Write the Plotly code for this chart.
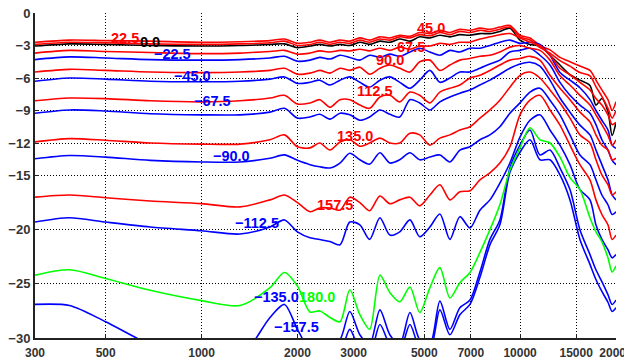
"""Off-axis frequency responses, one curve per angle."""

import math

import plotly.graph_objects as go


FREQ_HZ = [300, 385, 500, 690, 1000, 1320, 1640, 1820, 2000, 2190, 2350, 2530, 2720, 2920,
           3140, 3370, 3630, 3900, 4190, 4510, 4840, 5210, 5600, 6020, 6470, 6960, 7480,
           8040, 8640, 9290, 9990, 10740, 11540, 12410, 13340, 14340, 15410, 16570, 17300,
           18060, 18870, 19450, 20000]

DB_0 = [-3.05, -2.85, -2.9, -3.0, -3.05, -3.0, -2.9, -2.85, -3.2, -3.05, -2.9, -3.05, -2.9, -3.0,
        -2.7, -2.9, -2.6, -2.7, -2.4, -2.6, -2.2, -2.3, -2.05, -2.2, -2.0, -2.05, -1.9, -1.9,
        -1.7, -1.4, -2.5, -2.9, -3.05, -3.9, -4.8, -5.7, -6.2, -6.7, -8.5, -7.9, -9.1, -11.3, -10.1]
DB_P22 = [-2.7, -2.5, -2.55, -2.6, -2.7, -2.65, -2.55, -2.4, -2.8, -2.7, -2.5, -2.7, -2.5, -2.6,
          -2.3, -2.5, -2.2, -2.3, -2.05, -2.15, -1.8, -1.9, -1.6, -1.8, -1.5, -1.6, -1.4, -1.5,
          -1.3, -1.15, -2.05, -2.3, -3.0, -3.4, -4.1, -4.5, -4.9, -5.3, -6.2, -7.1, -8.0, -9.0, -8.2]
DB_P45 = [-2.9, -2.7, -2.75, -2.85, -2.9, -2.85, -2.75, -2.6, -3.0, -2.9, -2.7, -2.9, -2.7, -2.8,
          -2.5, -2.7, -2.4, -2.5, -2.2, -2.3, -2.0, -2.1, -1.8, -2.0, -1.7, -1.8, -1.6, -1.7,
          -1.5, -1.3, -2.2, -2.5, -3.2, -3.7, -4.4, -4.9, -5.5, -5.8, -6.8, -7.7, -8.8, -9.7, -9.0]
DB_P67 = [-3.7, -3.45, -3.55, -3.65, -3.75, -3.7, -3.55, -3.45, -3.8, -3.7, -3.5, -3.6, -3.45, -3.5,
          -3.35, -3.5, -3.25, -3.45, -3.15, -3.35, -3.05, -3.05, -2.8, -2.9, -2.7, -2.7, -2.4, -2.2,
          -2.0, -1.9, -2.3, -2.7, -3.0, -3.9, -5.1, -5.7, -6.4, -7.1, -7.9, -8.5, -9.4, -10.3, -10.1]
DB_P90 = [-5.45, -5.2, -5.3, -5.45, -5.5, -5.45, -5.3, -5.1, -5.65, -5.55, -5.3, -5.55, -5.1, -5.3,
          -5.0, -5.65, -5.1, -4.8, -5.1, -5.45, -4.5, -4.35, -5.3, -4.8, -4.35, -4.2, -4.0, -3.9,
          -3.6, -3.15, -3.0, -3.25, -3.45, -4.35, -5.8, -6.65, -7.6, -8.5, -9.4, -10.3, -11.3, -12.2, -11.7]
DB_P112 = [-8.1, -7.85, -7.9, -8.1, -8.2, -8.1, -7.85, -7.6, -8.4, -8.3, -8.0, -8.7, -8.0, -8.0,
           -8.5, -8.8, -7.75, -7.6, -8.2, -7.3, -7.6, -8.3, -7.3, -6.95, -6.65, -6.0, -5.75, -5.3,
           -4.8, -4.35, -4.2, -4.0, -4.35, -5.75, -6.95, -8.0, -9.15, -10.05, -11.25, -12.2, -12.65,
           -13.55, -13.4]
DB_P135 = [-11.9, -11.6, -11.75, -12.0, -12.1, -12.1, -11.7, -11.25, -12.35, -12.45, -12.0, -12.65,
           -11.9, -11.7, -12.3, -12.0, -11.55, -12.0, -12.0, -11.1, -11.25, -12.2, -11.55, -11.25,
           -10.8, -10.5, -9.7, -8.95, -8.05, -6.85, -5.75, -5.45, -6.0, -7.1, -8.3, -9.7, -11.25,
           -12.0, -13.55, -14.95, -15.85, -16.8, -16.5]
DB_P157 = [-17.0, -16.8, -17.05, -17.35, -17.6, -17.9, -17.25, -16.8, -17.5, -18.35, -18.0, -18.0,
           -18.2, -17.0, -17.5, -18.25, -16.9, -17.6, -17.25, -17.0, -17.8, -16.8, -15.85, -17.25,
           -16.5, -16.4, -15.4, -14.75, -13.85, -12.35, -9.4, -8.05, -7.6, -8.95, -10.35, -12.2,
           -14.0, -15.4, -17.25, -18.6, -19.55, -20.9, -20.5]
DB_180 = [-24.2, -23.7, -24.5, -25.6, -26.55, -27.0, -25.35, -23.95, -25.2, -27.6, -27.5, -28.1,
          -28.5, -25.55, -27.85, -29.2, -24.2, -25.8, -26.65, -25.3, -27.65, -25.35, -23.5, -26.3,
          -24.9, -23.95, -22.1, -20.0, -17.7, -14.5, -12.45, -10.6, -11.7, -12.0, -13.3, -15.2,
          -16.3, -18.9, -20.2, -21.1, -22.6, -23.9, -23.35]
DB_M22 = [-4.3, -4.05, -4.15, -4.3, -4.35, -4.3, -4.15, -4.0, -4.45, -4.35, -4.1, -4.25, -3.9, -4.1,
          -4.35, -3.9, -4.1, -3.8, -4.0, -3.6, -3.25, -3.6, -3.9, -3.45, -3.6, -3.25, -3.25, -3.0,
          -2.7, -2.5, -2.8, -2.7, -2.9, -3.9, -5.5, -6.2, -6.9, -8.0, -9.0, -9.9, -10.8, -12.2, -12.5]
DB_M45 = [-6.3, -6.0, -6.1, -6.3, -6.35, -6.3, -6.1, -5.9, -6.5, -6.4, -6.2, -6.65, -6.2, -5.9,
          -6.4, -6.85, -6.2, -5.9, -6.4, -6.95, -6.2, -5.3, -6.4, -6.0, -5.45, -5.45, -5.1, -4.7,
          -4.35, -3.6, -3.45, -3.25, -3.9, -4.8, -6.4, -7.6, -8.5, -9.25, -10.3, -11.7, -12.65,
          -13.6, -14.0]
DB_M67 = [-9.25, -8.95, -9.05, -9.3, -9.4, -9.4, -9.15, -8.8, -9.7, -9.6, -9.35, -9.8, -9.25, -9.4,
          -9.9, -9.6, -8.95, -9.35, -9.6, -8.0, -8.3, -8.95, -8.2, -7.75, -7.4, -7.1, -6.65, -6.2,
          -5.65, -5.1, -4.7, -4.55, -4.9, -6.2, -7.85, -9.15, -10.35, -11.25, -12.65, -14.0, -15.4,
          -16.8, -17.25]
DB_M90 = [-13.45, -13.15, -13.3, -13.6, -13.75, -13.75, -13.4, -13.1, -13.6, -14.0, -14.2, -14.3,
          -13.85, -12.95, -13.55, -13.95, -12.9, -13.85, -13.55, -12.9, -13.55, -13.3, -13.1,
          -13.75, -12.65, -12.35, -11.7, -11.25, -10.5, -9.25, -8.3, -7.3, -6.95, -8.05, -9.4,
          -11.25, -13.1, -14.0, -15.4, -16.8, -17.7, -18.6, -18.35]
DB_M112 = [-19.3, -18.9, -19.3, -19.75, -20.1, -20.4, -19.75, -19.1, -20.2, -20.75, -20.9, -21.1,
           -21.4, -19.3, -19.55, -20.9, -18.9, -20.5, -20.2, -19.1, -20.65, -19.75, -18.55, -20.9,
           -18.8, -19.85, -18.2, -17.25, -15.7, -13.85, -11.45, -9.9, -9.4, -10.8, -12.2, -14.0,
           -16.3, -17.25, -19.55, -20.9, -21.85, -22.6, -22.3]
DB_M135 = [-26.9, -27.0, -28.5, -30.6, -32.0, -31.8, -28.1, -26.9, -29.2, -31.1, -31.1, -30.6,
           -30.15, -27.55, -29.7, -30.6, -27.4, -29.7, -30.6, -27.65, -30.15, -30.6, -26.6, -29.2,
           -27.2, -26.5, -23.9, -20.9, -19.1, -14.3, -12.2, -10.8, -13.1, -12.65, -14.3, -16.3,
           -20.0, -22.3, -23.7, -24.8, -26.0, -26.9, -26.5]
DB_M157 = [-32.0, -32.45, -33.4, -33.8, -33.8, -33.4, -31.5, -30.6, -31.1, -32.45, -32.45, -32.0,
           -31.5, -29.2, -31.1, -31.5, -28.75, -30.6, -31.1, -28.75, -30.9, -31.1, -27.4, -29.7,
           -27.85, -26.9, -24.4, -21.4, -19.55, -14.7, -12.85, -11.7, -13.55, -13.55, -14.95,
           -17.25, -20.9, -23.2, -24.6, -25.7, -26.7, -27.55, -27.2]

# angle label text and where it sits (Hz, dB)
LABEL_TEXT = ["22.5", "0.0", "\u221222.5", "\u221245.0", "\u221267.5", "\u221290.0", "\u2212112.5",
              "\u2212135.0", "\u2212157.5", "180.0", "157.5", "135.0", "112.5", "90.0", "67.5", "45.0"]
LABEL_HZ = [575, 690, 811, 938, 1084, 1243, 1490, 1722, 1990, 2299, 2620, 3027, 3498, 3899, 4539, 5245]
LABEL_DB = [-2.28, -2.7, -3.8, -5.83, -8.13, -13.2, -19.37, -26.18, -28.94, -26.18, -17.71, -11.36,
            -7.21, -4.36, -3.11, -1.36]

X_TICKS = [300, 500, 1000, 2000, 3000, 5000, 7000, 10000, 15000, 20000]
Y_TICKS = [0, -3, -6, -9, -12, -15, -20, -25, -30]

RED = "#ff0000"
BLUE = "#0000ff"
GREEN = "#00ff00"
BLACK = "#000000"


def label_color(text):
    if text == "0.0":
        return BLACK
    if text == "180.0":
        return GREEN
    return BLUE if text.startswith("\u2212") else RED


series = [
    (DB_0, BLACK), (DB_P22, RED), (DB_M22, BLUE), (DB_P45, RED), (DB_M45, BLUE),
    (DB_P67, RED), (DB_M67, BLUE), (DB_P90, RED), (DB_M90, BLUE), (DB_P112, RED),
    (DB_M112, BLUE), (DB_P135, RED), (DB_M135, BLUE), (DB_P157, RED), (DB_M157, BLUE),
    (DB_180, GREEN),
]

fig = go.Figure()
for values, color in series:
    fig.add_trace(go.Scatter(
        x=FREQ_HZ, y=values, mode="lines",
        line={"color": color, "width": 1.6, "shape": "spline", "smoothing": 0.8},
        showlegend=False, hoverinfo="skip",
    ))

label_font = {"family": "Liberation Sans, Arial, sans-serif", "size": 14.5, "weight": "bold"}
for text, hz, db in zip(LABEL_TEXT, LABEL_HZ, LABEL_DB):
    fig.add_annotation(
        x=math.log10(hz), y=db, text=text, showarrow=False,
        xanchor="center", yanchor="middle",
        font={**label_font, "color": label_color(text)},
    )

tick_font = {"family": "Liberation Sans, Arial, sans-serif", "size": 13, "weight": "bold", "color": "#333333"}
axis_style = dict(
    showgrid=True, gridcolor="#000000", gridwidth=1, griddash="1px,2px",
    showline=True, linecolor="#222222", linewidth=2, zeroline=False,
    ticks="inside", ticklen=4, tickcolor="#222222", tickfont=tick_font,
    tickmode="array", automargin=False, ticklabeloverflow="allow",
)
fig.update_xaxes(
    type="log", range=[math.log10(300), math.log10(20000)],
    tickvals=X_TICKS, ticktext=[str(v) for v in X_TICKS], ticklabelstandoff=3, **axis_style,
)
fig.update_xaxes(tickfont={"size": 12})
fig.update_yaxes(
    range=[-30, 0], tickvals=Y_TICKS,
    ticktext=[str(v).replace("-", "\u2212") for v in Y_TICKS], **axis_style,
)
# the page body adds an 8px offset, so the figure is 8px smaller and margins shift by 8
fig.update_layout(
    width=624, height=352, template="plotly_white",
    paper_bgcolor="white", plot_bgcolor="white",
    margin=dict(l=27, r=16, t=5, b=22),
)

fig.write_html("out.html")
